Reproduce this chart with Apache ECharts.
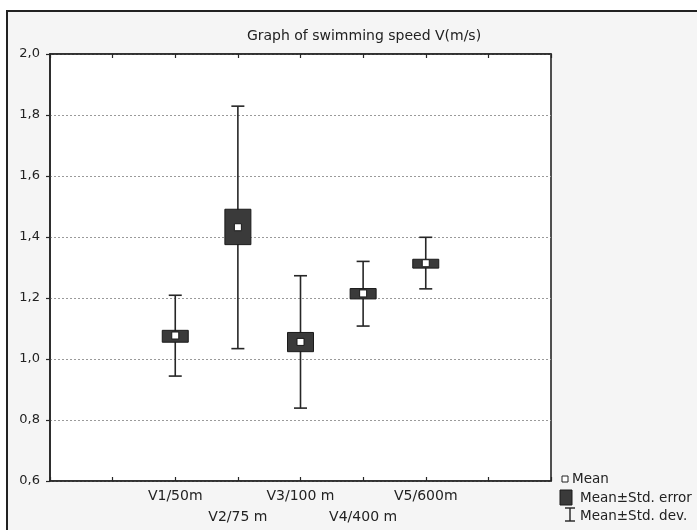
<!DOCTYPE html>
<html>
<head>
<meta charset="utf-8">
<script src="https://cdn.jsdelivr.net/npm/echarts@6/dist/echarts.min.js"></script>
<style>html,body{margin:0;padding:0;background:#fff}#c{width:697px;height:530px}</style>
</head>
<body>
<div id="c"></div>
<script>
const categories = ['V1/50m', 'V2/75 m', 'V3/100 m', 'V4/400 m', 'V5/600m'];
const catPositions = [2, 3, 4, 5, 6];
const means  = [1.077, 1.432, 1.056, 1.215, 1.314];
const seLow  = [1.055, 1.375, 1.024, 1.197, 1.298];
const seHigh = [1.094, 1.491, 1.087, 1.231, 1.327];
const sdLow  = [0.944, 1.034, 0.839, 1.108, 1.230];
const sdHigh = [1.209, 1.829, 1.273, 1.320, 1.399];
const yMin = 0.6, yMax = 2.0, yStep = 0.2;
const titleText = 'Graph of swimming speed V(m/s)';
const legendNames = ['Mean', 'Mean\u00b1Std. error', 'Mean\u00b1Std. dev.'];

const FONT = 'DejaVu Sans';
const data = categories.map((c, i) => [catPositions[i], means[i], seLow[i], seHigh[i], sdLow[i], sdHigh[i]]);

const chart = echarts.init(document.getElementById('c'));
chart.setOption({
  backgroundColor: '#ffffff',
  animation: false,
  title: {
    text: titleText, left: 359, top: 24, textAlign: 'center',
    textStyle: { fontFamily: FONT, fontSize: 14, fontWeight: 'normal', color: '#222' }
  },
  grid: { left: 50, right: 146, top: 54, bottom: 49, show: true, backgroundColor: '#ffffff', borderColor: '#262626', borderWidth: 1.6 },
  xAxis: [{
    type: 'value', min: 0, max: 8, interval: 1, position: 'bottom',
    axisLine: { show: true, lineStyle: { color: '#262626', width: 1.6 } },
    axisTick: { show: true, inside: true, length: 4, lineStyle: { color: '#262626', width: 1.2 } },
    splitLine: { show: false },
    axisLabel: {
      show: true, margin: 5, fontFamily: FONT, fontSize: 14, color: '#222', lineHeight: 21,
      formatter: function (v) {
        const i = catPositions.indexOf(v);
        if (i < 0) return '';
        return i % 2 === 1 ? '\n' + categories[i] : categories[i];
      }
    }
  }, {
    type: 'value', min: 0, max: 8, interval: 1, position: 'top',
    axisLine: { show: true, lineStyle: { color: '#262626', width: 1.6 } },
    axisTick: { show: true, inside: true, length: 4, lineStyle: { color: '#262626', width: 1.2 } },
    splitLine: { show: false }, axisLabel: { show: false }
  }],
  yAxis: {
    type: 'value', min: yMin, max: yMax, interval: yStep,
    axisLine: { show: true, lineStyle: { color: '#262626', width: 1.6 } },
    axisTick: { show: true, inside: false, length: 4, lineStyle: { color: '#262626', width: 1.2 } },
    splitLine: { show: true, lineStyle: { color: '#9a9a9a', type: [2, 2], width: 1 } },
    axisLabel: {
      margin: 10, fontFamily: FONT, fontSize: 13, color: '#222',
      formatter: v => v.toFixed(1).replace('.', ',')
    }
  },
  graphic: [
    { type: 'rect', z: -100, silent: true, shape: { x: 7, y: 11, width: 720, height: 560 },
      style: { fill: '#f5f5f5', stroke: '#222', lineWidth: 2 } },
    { type: 'group', z: 100, children: [
      { type: 'rect', shape: { x: 562, y: 476, width: 6, height: 6 }, style: { fill: '#fff', stroke: '#222', lineWidth: 1 } },
      { type: 'text', style: { x: 572, y: 479, text: legendNames[0], fontFamily: FONT, fontSize: 13.5, fill: '#222', verticalAlign: 'middle' } },
      { type: 'rect', shape: { x: 560, y: 490, width: 12, height: 15 }, style: { fill: '#3a3a3a', stroke: '#1a1a1a', lineWidth: 1 } },
      { type: 'text', style: { x: 580, y: 498, text: legendNames[1], fontFamily: FONT, fontSize: 13.5, fill: '#222', verticalAlign: 'middle' } },
      { type: 'line', shape: { x1: 570, y1: 508, x2: 570, y2: 521 }, style: { stroke: '#222', lineWidth: 1.4 } },
      { type: 'line', shape: { x1: 565, y1: 508, x2: 575, y2: 508 }, style: { stroke: '#222', lineWidth: 1.4 } },
      { type: 'line', shape: { x1: 565, y1: 521, x2: 575, y2: 521 }, style: { stroke: '#222', lineWidth: 1.4 } },
      { type: 'text', style: { x: 580, y: 516, text: legendNames[2], fontFamily: FONT, fontSize: 13.5, fill: '#222', verticalAlign: 'middle' } }
    ]}
  ],
  series: [{
    type: 'custom',
    xAxisIndex: 0,
    data: data,
    encode: { x: 0, y: [1, 2, 3, 4, 5] },
    renderItem: function (params, api) {
      const x = api.value(0);
      const c = api.coord([x, api.value(1)]);
      const seL = api.coord([x, api.value(2)]);
      const seH = api.coord([x, api.value(3)]);
      const sdL = api.coord([x, api.value(4)]);
      const sdH = api.coord([x, api.value(5)]);
      const bw = 26, cw = 13, mw = 7;
      const ls = { stroke: '#262626', lineWidth: 1.6 };
      return { type: 'group', children: [
        { type: 'line', shape: { x1: c[0], y1: sdH[1], x2: c[0], y2: sdL[1] }, style: ls },
        { type: 'line', shape: { x1: c[0] - cw / 2, y1: sdH[1], x2: c[0] + cw / 2, y2: sdH[1] }, style: ls },
        { type: 'line', shape: { x1: c[0] - cw / 2, y1: sdL[1], x2: c[0] + cw / 2, y2: sdL[1] }, style: ls },
        { type: 'rect', shape: { x: c[0] - bw / 2, y: seH[1], width: bw, height: seL[1] - seH[1] },
          style: { fill: '#3a3a3a', stroke: '#1a1a1a', lineWidth: 1 } },
        { type: 'rect', shape: { x: c[0] - mw / 2, y: c[1] - mw / 2, width: mw, height: mw },
          style: { fill: '#ffffff', stroke: '#1a1a1a', lineWidth: 1 } }
      ]};
    }
  }]
});
</script>
</body>
</html>
